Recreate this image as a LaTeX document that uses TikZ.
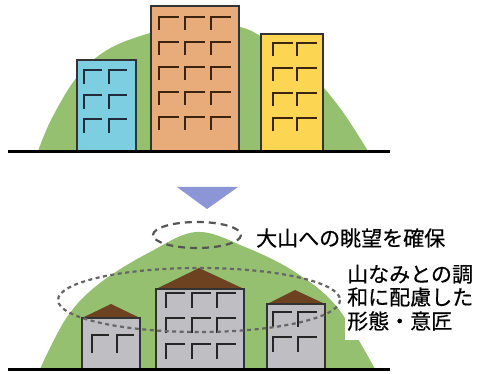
\documentclass[tikz,border=0pt]{standalone}
\usepackage{fontspec}
\newfontfamily\jpfont[FakeBold=0.5]{Noto Sans CJK JP}
\definecolor{hillgreen}{RGB}{148,192,112}
\definecolor{skyblue}{RGB}{126,206,226}
\definecolor{clay}{RGB}{232,172,122}
\definecolor{sunny}{RGB}{252,214,82}
\definecolor{wallgray}{RGB}{190,190,195}
\definecolor{roofbrown}{RGB}{108,66,32}
\definecolor{arrowblue}{RGB}{140,150,215}
\definecolor{winbrown}{RGB}{60,36,16}
\definecolor{winnavy}{RGB}{30,44,60}
\definecolor{dashgray}{RGB}{85,85,85}
\begin{document}
\begin{tikzpicture}[x=1pt,y=-1pt,
  hill/.style={fill=hillgreen},
  block/.style={draw=black!80,line width=1.1pt},
  winline/.style={line width=2.4pt,line join=miter},
  ground/.style={line width=3pt,black},
  roof/.style={fill=roofbrown},
  label/.style={inner sep=0pt,font=\jpfont\fontsize{21pt}{24pt}\selectfont}]
\useasboundingbox (0,0) rectangle (477,374);

% ---------- upper scene: tall blocks in front of the hill ----------
\fill[hill] plot[smooth,tension=0.6] coordinates {(38,151) (52,118) (77,77) (107,50) (150,33) (200,22) (240,27) (262,37) (300,62) (324,88) (345,115) (368,151)} -- cycle;

\filldraw[block,fill=skyblue] (77,151) rectangle (136,60);
\filldraw[block,fill=clay] (151,151) rectangle (239,6);
\filldraw[block,fill=sunny] (261,151) rectangle (323,34);

\foreach \x in {84,109} \foreach \y in {70,95,119}
  \draw[winline,winnavy] (\x,\y+14) -- (\x,\y) -- (\x+18,\y);
\foreach \x in {159,185,211} \foreach \y in {17,42,67,92,117}
  \draw[winline,winbrown] (\x,\y+13) -- (\x,\y) -- (\x+20,\y);
\foreach \x in {273,297} \foreach \y in {43,68,93,118}
  \draw[winline,winbrown] (\x,\y+13) -- (\x,\y) -- (\x+20,\y);

\coordinate (g1a) at (8,152);
\coordinate (g1b) at (390,152);
\draw[ground] (g1a) -- (g1b);

% ---------- arrow ----------
\fill[arrowblue] (177,187) -- (238,187) -- (207,209) -- cycle;

% ---------- lower scene: low houses under the hill ----------
\fill[hill] plot[smooth,tension=0.6] coordinates {(40,369) (67,317) (100,283) (150,252) (197,232) (245,247) (295,272) (337,307) (375,369)} -- cycle;

\fill[roof] (82,318) -- (111,304) -- (140,318) -- cycle;
\fill[roof] (156,289) -- (199,268) -- (244,289) -- cycle;
\fill[roof] (267,304) -- (295,290) -- (325,304) -- cycle;
\filldraw[block,fill=wallgray] (82,369) rectangle (140,318);
\filldraw[block,fill=wallgray] (156,369) rectangle (244,289);
\filldraw[block,fill=wallgray] (267,369) rectangle (325,304);

\foreach \x in {92,117}
  \draw[winline,black!85] (\x,335+18) -- (\x,335) -- (\x+17,335);
\foreach \x in {166,192,217} \foreach \y in {293,318,344}
  \draw[winline,black!85] (\x,\y+15) -- (\x,\y) -- (\x+19,\y);
\foreach \x in {273,298} \foreach \y in {312,337}
  \draw[winline,black!85] (\x,\y+15) -- (\x,\y) -- (\x+19,\y);

\coordinate (g2a) at (8,369);
\coordinate (g2b) at (390,369);
\draw[ground] (g2a) -- (g2b);

% dashed rings marking the view and the skyline
\draw[dashgray,line width=2.2pt,dash pattern=on 7pt off 5pt] (197,235) ellipse [x radius=44, y radius=13];
\draw[dashgray!90,line width=2.2pt,dash pattern=on 4pt off 3.5pt] (199,300) ellipse [x radius=141, y radius=32];

% captions
\node[label,anchor=base west] (view) at (256,246) {大山への眺望を確保};
\fill[white] (345,258) rectangle (477,340);
\node[label,anchor=base west] (capa) at (347,282) {山なみとの調};
\node[label,anchor=base west] (capb) at (347,305) {和に配慮した};
\node[label,anchor=base west] (capc) at (347,329) {形態・意匠};
\end{tikzpicture}
\end{document}
